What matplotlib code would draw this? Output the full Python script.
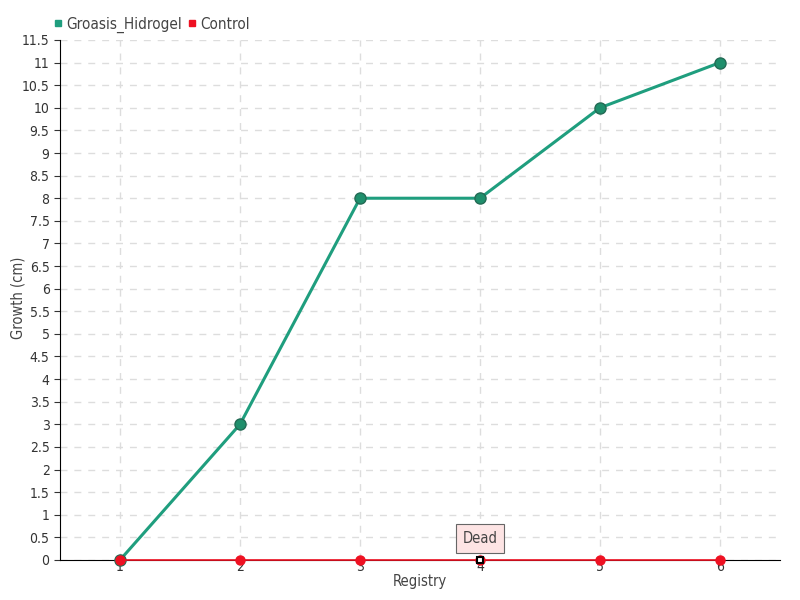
import matplotlib
matplotlib.use('Agg')
import matplotlib.pyplot as plt
import numpy as np

# Data
registry = [1, 2, 3, 4, 5, 6]
groasis_hidrogel = [0, 3, 8, 8, 10, 11]
control = [0, 0, 0, 0, 0, 0]
y_ticks = np.arange(0, 11.51, 0.5)

plt.rcParams['font.family'] = ['DejaVu Sans']
plt.rcParams['font.stretch'] = 'condensed'

fig = plt.figure(figsize=(8, 6), dpi=100)
ax = fig.add_axes([0.075, 0.0667, 0.9, 0.8667])

green = '#1f9e7e'
red = '#ee1122'

ax.plot(registry, groasis_hidrogel, color=green, linewidth=2.2, marker='o', markersize=8,
        markerfacecolor='#1f8f6c', markeredgecolor='#236b55', markeredgewidth=1, zorder=3,
        label='Groasis_Hidrogel', clip_on=False)
ax.plot(registry, control, color=red, linewidth=1.2, marker='o', markersize=6.5,
        markerfacecolor=red, markeredgecolor=red, zorder=4, label='Control', clip_on=False)

# highlighted point with tooltip
ax.plot(registry[3], control[3], marker='s', markersize=4.5, markerfacecolor='white',
        markeredgecolor='black', markeredgewidth=1.5, zorder=5, clip_on=False)
ax.annotate('Dead', xy=(registry[3], control[3]), xytext=(0, 15.5), textcoords='offset points',
            ha='center', va='center', fontsize=10.5, color='#444444',
            bbox=dict(boxstyle='square,pad=0.45', facecolor='#fde4e4', edgecolor='#666666', linewidth=0.8),
            zorder=6)

ax.set_xlim(0.5, 6.5)
ax.set_ylim(0, 11.5)
ax.set_xticks(registry)
ax.set_yticks(y_ticks)
ax.set_yticklabels([('%g' % v) for v in y_ticks])
ax.tick_params(axis='both', labelsize=10, colors='#333333', length=4)
ax.tick_params(axis='x', length=0, pad=0)

ax.grid(True, linestyle=(0, (5, 5)), color='#dddddd', linewidth=1)
ax.set_axisbelow(True)
ax.spines['top'].set_visible(False)
ax.spines['right'].set_visible(False)
ax.spines['left'].set_color('black')
ax.spines['bottom'].set_color('black')

ax.set_xlabel('Registry', fontsize=10.5, color='#444444', labelpad=0)
ax.set_ylabel('Growth (cm)', fontsize=10.5, color='#444444', va='center')
ax.yaxis.set_label_coords(-0.058, 0.504)

fig.legend(loc='upper left', bbox_to_anchor=(0.05, 0.995), ncol=2, frameon=False,
           fontsize=11, handlelength=0.5, handletextpad=0.3, columnspacing=0.4)
leg = fig.legends[0]
for h, c in zip(leg.legend_handles, [green, red]):
    h.set_linestyle('none')
    h.set_marker('s')
    h.set_markerfacecolor(c)
    h.set_markeredgecolor(c)
    h.set_markersize(5)
for t in leg.get_texts():
    t.set_color('#444444')

fig.savefig('out.png', dpi=100)
